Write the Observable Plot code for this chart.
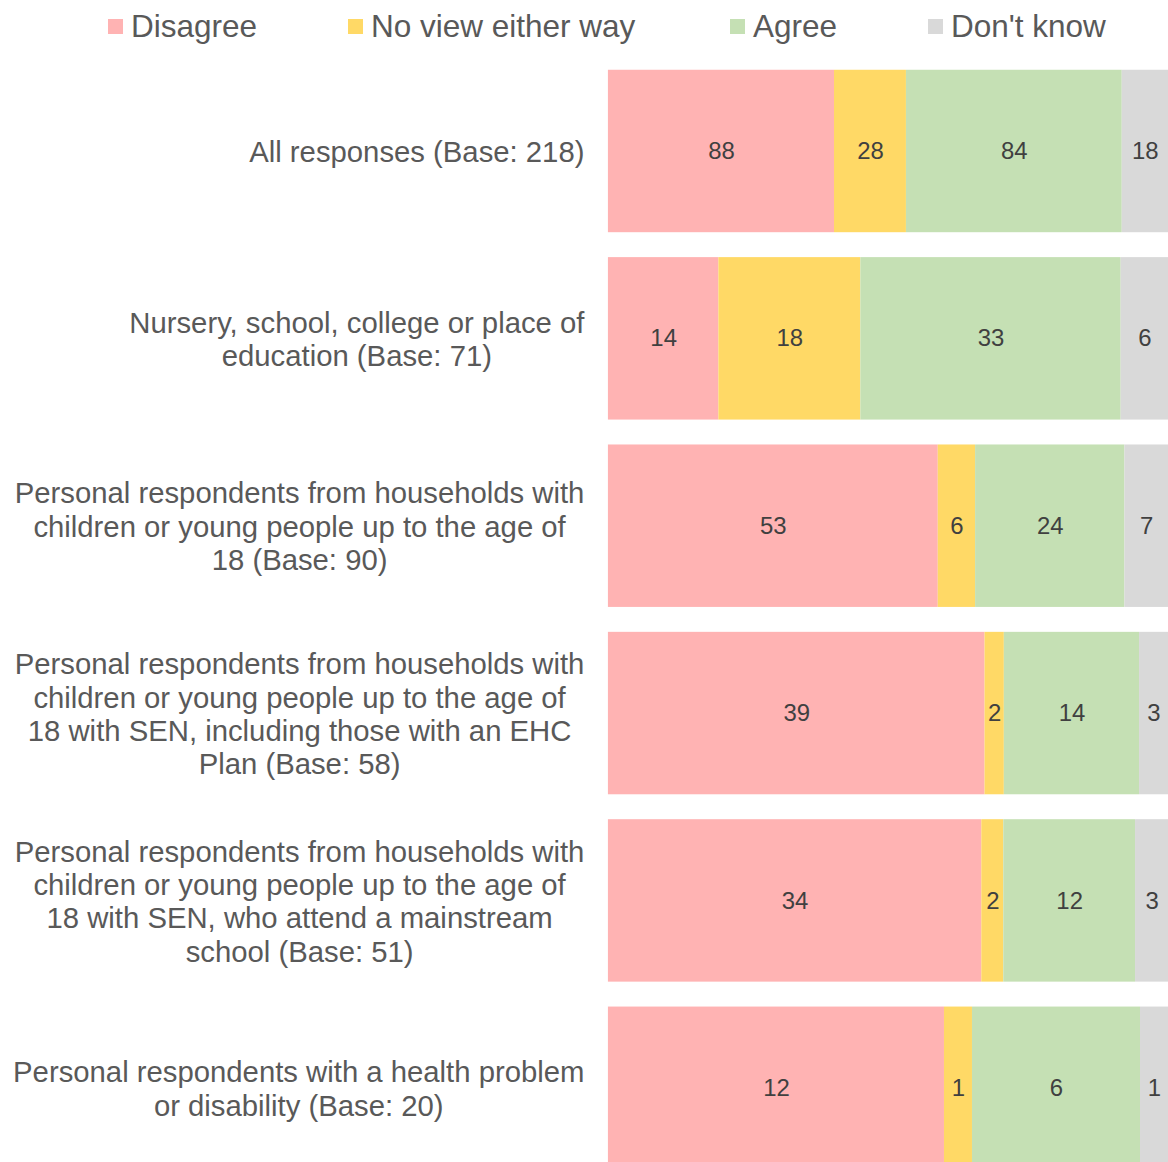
<!DOCTYPE html>
<html>
<head>
<meta charset="utf-8">
<script src="https://cdn.jsdelivr.net/npm/d3@7"></script>
<script src="https://cdn.jsdelivr.net/npm/@observablehq/plot@0.6"></script>
<style>
  html, body { margin: 0; padding: 0; background: #fff; overflow: hidden; width: 1168px; height: 1162px; }
  #wrap { position: relative; width: 1168px; height: 1162px; overflow: hidden; font-family: "Liberation Sans", Arial, sans-serif; }
  #legend { position: absolute; left: 0; top: 0; width: 1168px; height: 52px; z-index: 2; }
  .li { position: absolute; top: 6px; display: flex; align-items: center; font-size: 31.5px; color: #595959; line-height: 40px; white-space: nowrap; }
  .sw { width: 15px; height: 15px; margin-right: 8px; }
  #chart { position: absolute; left: 0; top: 0; }
</style>
</head>
<body>
<div id="wrap">
  <div id="legend"></div>
  <div id="chart"></div>
</div>
<script>
const categories = [
  "All responses (Base: 218)",
  "Nursery, school, college or place of\neducation (Base: 71)",
  "Personal respondents from households with\nchildren or young people up to the age of\n18 (Base: 90)",
  "Personal respondents from households with\nchildren or young people up to the age of\n18 with SEN, including those with an EHC\nPlan (Base: 58)",
  "Personal respondents from households with\nchildren or young people up to the age of\n18 with SEN, who attend a mainstream\nschool (Base: 51)",
  "Personal respondents with a health problem\nor disability (Base: 20)"
];
const responses = ["Disagree", "No view either way", "Agree", "Don't know"];
const disagree = [88, 14, 53, 39, 34, 12];
const noView   = [28, 18, 6, 2, 2, 1];
const agree    = [84, 33, 24, 14, 12, 6];
const dontKnow = [18, 6, 7, 3, 3, 1];
const colors = ["#FFB3B3", "#FFD966", "#C5E0B4", "#D9D9D9"];

const series = [disagree, noView, agree, dontKnow];
const rows = [];
categories.forEach((c, i) => {
  responses.forEach((r, j) => rows.push({cat: c, response: r, value: series[j][i]}));
});

// Legend (HTML, above the SVG)
const legendLeft = [108, 348, 730, 928];
const legend = document.getElementById("legend");
responses.forEach((r, j) => {
  const d = document.createElement("div");
  d.className = "li";
  d.style.left = legendLeft[j] + "px";
  const s = document.createElement("span");
  s.className = "sw";
  s.style.background = colors[j];
  const t = document.createElement("span");
  t.textContent = r;
  d.appendChild(s); d.appendChild(t);
  legend.appendChild(d);
});

// measure label block widths for centred wrapped labels
const labelSize = 29.4;
const ctx = document.createElement("canvas").getContext("2d");
ctx.font = `${labelSize}px "Liberation Sans"`;
const blockWidth = c => Math.max(...c.split("\n").map(l => ctx.measureText(l).width));

const labelMarks = categories.map(c => Plot.text([c], {
  x: () => 0,
  y: d => d,
  text: d => d,
  dx: -(24 + blockWidth(c) / 2),
  textAnchor: "middle",
  lineHeight: 1.14,
  fontSize: labelSize,
  fill: "#595959"
}));

const chart = Plot.plot({
  width: 1172,
  height: 1199,
  marginLeft: 610,
  marginRight: 0,
  marginTop: 44,
  marginBottom: 0,
  style: {fontFamily: '"Liberation Sans", Arial, sans-serif', background: "transparent", overflow: "visible"},
  x: {axis: null, domain: [0, 1]},
  y: {axis: null, domain: categories, padding: 0.134},
  color: {domain: responses, range: colors},
  marks: [
    Plot.barX(rows, Plot.stackX({x: "value", y: "cat", fill: "response", offset: "normalize", order: responses})),
    Plot.text(rows, Plot.stackX({x: "value", y: "cat", z: "response", text: d => String(d.value), offset: "normalize", order: responses, fontSize: 24, fill: "#404040"})),
    ...labelMarks
  ]
});
document.getElementById("chart").appendChild(chart);
</script>
</body>
</html>
